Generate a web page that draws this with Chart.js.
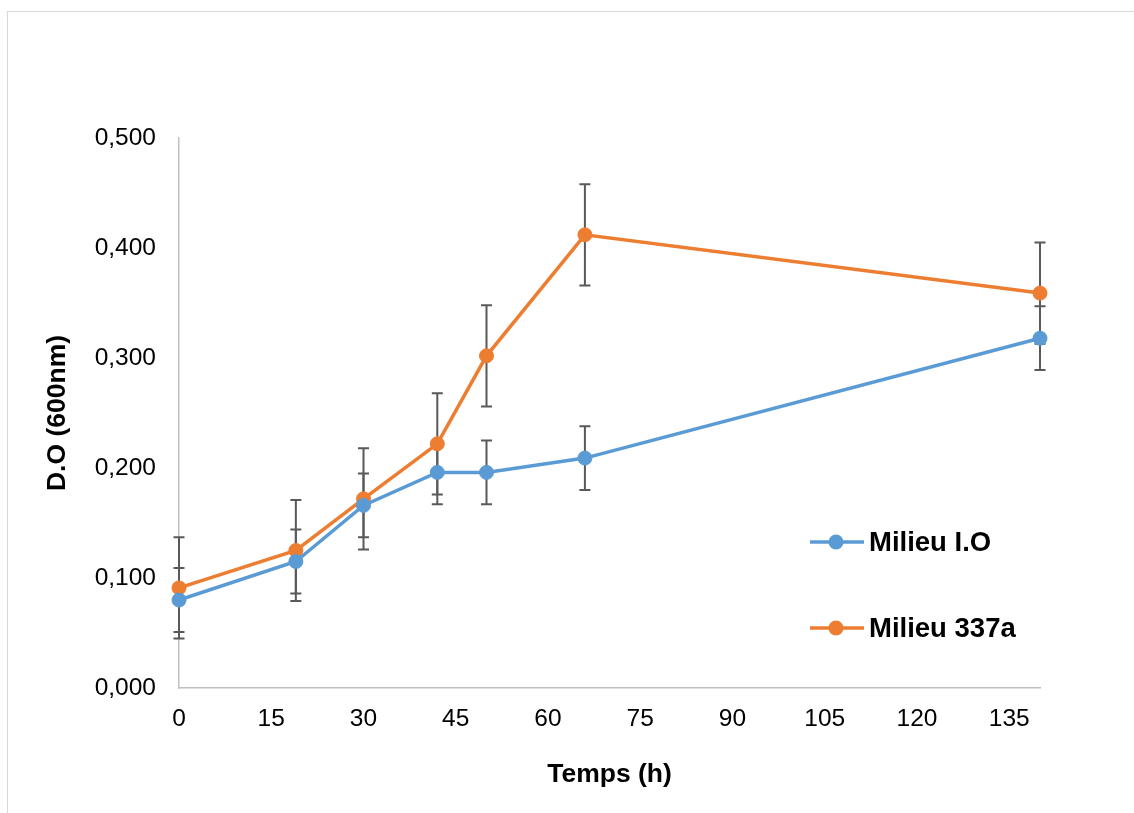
<!DOCTYPE html>
<html>
<head>
<meta charset="utf-8">
<script src="https://cdn.jsdelivr.net/npm/chart.js@4.4.1/dist/chart.umd.min.js"></script>
<style>
  html, body { margin: 0; padding: 0; background: #fff; }
  #wrap { width: 1134px; height: 813px; position: relative; }
</style>
</head>
<body>
<div id="wrap"><canvas id="growth"></canvas></div>
<script>
// Sampling times (h)
const hours = [0, 19, 30, 42, 50, 66, 140];
// Optical density at 600 nm, mean per time point
const milieuIO   = [0.080, 0.115, 0.166, 0.196, 0.196, 0.209, 0.318];
const milieu337a = [0.091, 0.125, 0.172, 0.222, 0.302, 0.412, 0.359];
// Error bar half-widths
const errIO   = [0.029, 0.029, 0.029, 0.029, 0.029, 0.029, 0.029];
const err337a = [0.046, 0.046, 0.046, 0.046, 0.046, 0.046, 0.046];
// Axis ticks
const xTicks = [0, 15, 30, 45, 60, 75, 90, 105, 120, 135];
const yTicks = [0, 0.1, 0.2, 0.3, 0.4, 0.5];
const yTickLabels = ['0,000', '0,100', '0,200', '0,300', '0,400', '0,500'];
const seriesNames = ['Milieu I.O', 'Milieu 337a'];
const seriesColors = ['#5B9BD5', '#ED7D31'];

const FONT = "'Liberation Sans', Arial, sans-serif";

function toPoints(xs, ys) {
  return xs.map((x, i) => ({ x: x, y: ys[i] }));
}

// White page with a thin frame around the chart
const framePlugin = {
  id: 'frame',
  beforeDraw(chart) {
    const ctx = chart.ctx;
    ctx.save();
    ctx.fillStyle = '#ffffff';
    ctx.fillRect(0, 0, chart.width, chart.height);
    ctx.strokeStyle = '#d9d9d9';
    ctx.lineWidth = 1;
    ctx.strokeRect(7.5, 11.5, chart.width + 20, chart.height + 20);
    ctx.restore();
  }
};

// Vertical error bars with caps, drawn under the lines and markers
const errorBarPlugin = {
  id: 'errorBars',
  beforeDatasetsDraw(chart) {
    const ctx = chart.ctx;
    const xs = chart.scales.x, ys = chart.scales.y;
    ctx.save();
    ctx.strokeStyle = '#595959';
    ctx.lineWidth = 2;
    chart.data.datasets.forEach(ds => {
      ds.data.forEach((p, i) => {
        const e = ds.errors[i];
        const px = xs.getPixelForValue(p.x);
        const top = ys.getPixelForValue(p.y + e);
        const bot = ys.getPixelForValue(p.y - e);
        const cap = 5.5;
        ctx.beginPath();
        ctx.moveTo(px, top); ctx.lineTo(px, bot);
        ctx.moveTo(px - cap, top); ctx.lineTo(px + cap, top);
        ctx.moveTo(px - cap, bot); ctx.lineTo(px + cap, bot);
        ctx.stroke();
      });
    });
    ctx.restore();
  }
};

// Legend placed inside the plot, lower right
const insideLegendPlugin = {
  id: 'insideLegend',
  afterDraw(chart) {
    const ctx = chart.ctx;
    const area = chart.chartArea;
    const x0 = area.right - 230;
    const rows = [area.top + 404, area.top + 490];
    ctx.save();
    chart.data.datasets.forEach((ds, i) => {
      const y = rows[i];
      ctx.strokeStyle = ds.borderColor;
      ctx.lineWidth = 3.5;
      ctx.beginPath();
      ctx.moveTo(x0, y);
      ctx.lineTo(x0 + 54, y);
      ctx.stroke();
      ctx.fillStyle = ds.borderColor;
      ctx.beginPath();
      ctx.arc(x0 + 26, y, 7.5, 0, Math.PI * 2);
      ctx.fill();
      ctx.fillStyle = '#000';
      ctx.font = 'bold 27.5px ' + FONT;
      ctx.textBaseline = 'alphabetic';
      ctx.textAlign = 'left';
      ctx.fillText(ds.label, x0 + 59, y + 9);
    });
    ctx.restore();
  }
};

const datasets = [
  { label: seriesNames[0], data: toPoints(hours, milieuIO), errors: errIO },
  { label: seriesNames[1], data: toPoints(hours, milieu337a), errors: err337a }
].map((ds, i) => Object.assign(ds, {
  borderColor: seriesColors[i],
  backgroundColor: seriesColors[i],
  borderWidth: 3.5,
  pointRadius: 7,
  pointBorderWidth: 1,
  pointBackgroundColor: seriesColors[i],
  pointBorderColor: seriesColors[i],
  showLine: true,
  tension: 0,
  clip: false
}));

new Chart(document.getElementById('growth'), {
  type: 'scatter',
  data: { datasets: datasets },
  plugins: [framePlugin, errorBarPlugin, insideLegendPlugin],
  options: {
    responsive: true,
    maintainAspectRatio: false,
    animation: false,
    devicePixelRatio: 1,
    layout: { padding: { left: 40, top: 138, right: 94, bottom: 18 } },
    plugins: { legend: { display: false }, tooltip: { enabled: false } },
    scales: {
      x: {
        type: 'linear',
        min: 0,
        max: 140,
        grid: { display: false, drawTicks: false },
        border: { display: true, color: '#bfbfbf', width: 1.5 },
        afterBuildTicks(scale) { scale.ticks = xTicks.map(v => ({ value: v })); },
        afterFit(scale) { scale.height = 107; },
        ticks: {
          color: '#000',
          padding: 17,
          maxRotation: 0,
          autoSkip: false,
          font: { family: FONT, size: 24.5 },
          callback: (v) => String(v)
        },
        title: {
          display: true,
          text: 'Temps (h)',
          color: '#000',
          padding: { top: 0, bottom: 4 },
          font: { family: FONT, size: 26.5, weight: 'bold' }
        }
      },
      y: {
        type: 'linear',
        min: 0,
        max: 0.5,
        grid: { display: false, drawTicks: false },
        border: { display: true, color: '#bfbfbf', width: 1.5 },
        afterBuildTicks(scale) { scale.ticks = yTicks.map(v => ({ value: v })); },
        afterFit(scale) { scale.width = 139; },
        ticks: {
          color: '#000',
          padding: 23,
          autoSkip: false,
          font: { family: FONT, size: 24.5 },
          callback: (v) => yTickLabels[yTicks.findIndex(t => Math.abs(t - v) < 1e-9)]
        },
        title: {
          display: true,
          text: 'D.O (600nm)',
          color: '#000',
          padding: { top: 2, bottom: 0 },
          font: { family: FONT, size: 26.5, weight: 'bold' }
        }
      }
    }
  }
});
</script>
</body>
</html>
